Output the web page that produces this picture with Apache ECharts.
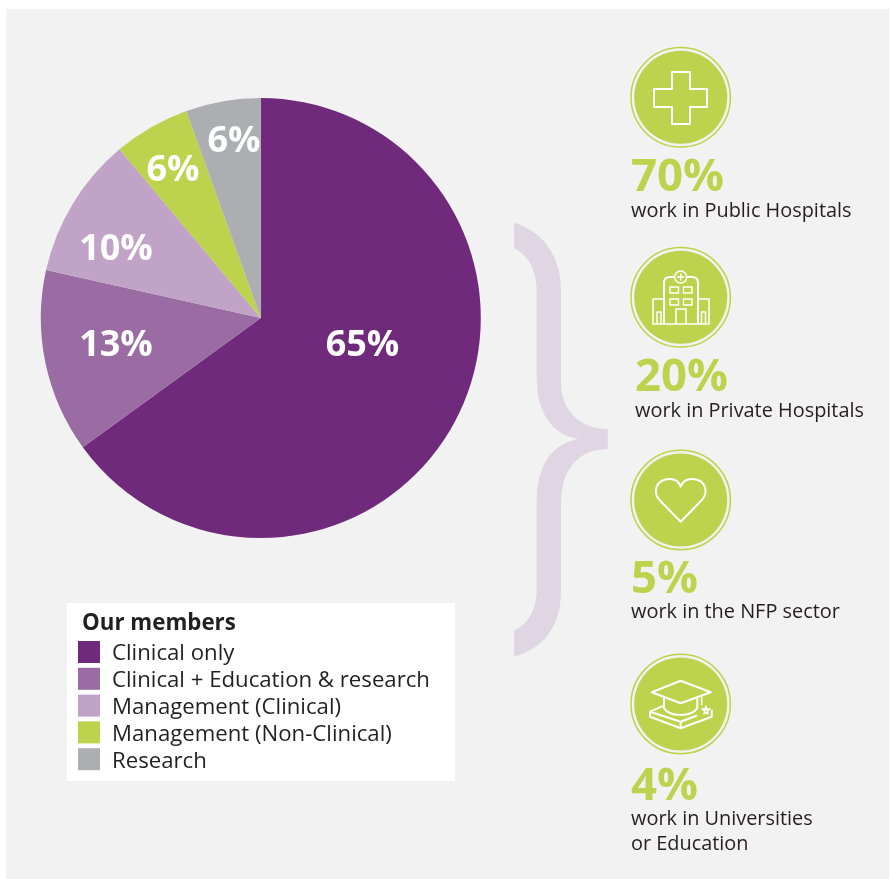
<!DOCTYPE html>
<html><head><meta charset="utf-8">
<style>html,body{margin:0;padding:0;background:#fff}#c{width:890px;height:879px}</style>
<script src="https://cdn.jsdelivr.net/npm/echarts@6/dist/echarts.min.js"></script>
</head><body><div id="c"></div>
<script>
const categories = ['Clinical only','Clinical + Education & research','Management (Clinical)','Management (Non-Clinical)','Research'];
const sliceValues = [65,13.5,10.4,5.6,5.5];
const sliceLabels = ['65%','13%','10%','6%','6%'];
const sliceColors = ['#6f2a7b','#9a6ca3','#c0a3c6','#bdd34d','#acaeb1'];
const labelCentres = [[362.5,346],[116,346],[116,250],[173,171],[234,142]];
const legendTitle = 'Our members';
const sectorPercents = ['70%','20%','5%','4%'];
const sectorTexts = [['work in Public Hospitals'],['work in Private Hospitals'],['work in the NFP sector'],['work in Universities','or Education']];
const sectorX = [631,635,631,631];
const percentY = [178.5,378.5,580.5,787.5];
const textY = [211,411,612,819];
const badgeY = [97.3,297.3,500,704];

const GREEN='#bdd34d', INK='#231f20', FONT='"Open Sans", sans-serif';
const line={fill:null,stroke:'#fff',lineWidth:2,lineJoin:'round'};
const thin={fill:null,stroke:'#fff',lineWidth:1.5,lineJoin:'round'};
let pathCount=0;
const pathEl=(d,style,z)=>{
  const name='svgPath'+(pathCount++);
  echarts.graphic.registerShape(name,echarts.graphic.extendPath(d,{}));
  return {type:name,style,z};
};
const icon=(d,s)=>pathEl(d,s||line,3);
const rect=(x,y,w,h,s)=>({type:'rect',shape:{x,y,width:w,height:h},style:s||thin,z:3});

const icons=[
 [icon('M672 72H690V89H707V107H690V124H672V107H654V89H672Z')],
 [icon('M664 324V283Q664 277 670 277H675M687 277H692Q698 277 698 283V324'),
  icon('M664 299H653V324H709V299H698',thin),
  {type:'circle',shape:{cx:680.7,cy:277,r:6},style:thin,z:3},
  icon('M680.7 273.5V280.5M677.2 277H684.2',thin),
  rect(670,287,8.5,6),rect(683.5,287,8.5,6),rect(670,299,8.5,6),rect(683.5,299,8.5,6),
  icon('M676 324V309H686V324',thin),
  icon('M657 324V312H661V324M701.5 324V312H705.5V324',thin)],
 [icon('M680.7 521.7L660 500.5C652 492 656 479 670 479C675 479 679 482 680.7 486.7C682.4 482 686.4 479 691.7 479C705.4 479 709.4 492 701.4 500.5Z')],
 [icon('M680.7 680.7L651.7 692.3L680.7 703.3L710.7 692.3Z'),
  icon('M664 698.3V708Q668 715 680.7 715Q693 715 697.3 708V698.3'),
  icon('M664 705.7L650 711.7V716.7L680.7 728.3L711.7 716.7V710'),
  icon('M650 711.7L680.7 721.7L697 715.5M680.7 721.7V728.3'),
  icon('M701.7 695V705',thin),
  icon('M702 709H710L704 714L706 706L708 714Z',thin)]
];

const graphic=[
 {type:'rect',shape:{x:6,y:9,width:883,height:870},style:{fill:'#f2f2f2'},z:-5},
 {type:'rect',shape:{x:67,y:603,width:388,height:178},style:{fill:'#fff'},z:-4},
 pathEl('M514 222.7C545 232 561 258 561 290V383C561 410 580 429 607.7 429V449C580 449 561 468 561 503V590C561 625 545 648 514 656.7V630.7C528 624 536.7 610 536.7 590V503C536.7 466 551 444 578.3 439C551 434 536.7 412 536.7 376.7V290C536.7 270 528 255 514 248.3Z',{fill:'#dfd5e3'},-4),
 {type:'text',style:{text:legendTitle,x:82,y:624,font:'bold 22.3px '+FONT,fill:INK,verticalAlign:'middle'},z:5}
];
badgeY.forEach((cy,i)=>{
 graphic.push({type:'circle',shape:{cx:680.7,cy,r:49.7},style:{fill:null,stroke:GREEN,lineWidth:1.5},z:1});
 graphic.push({type:'circle',shape:{cx:680.7,cy,r:46.5},style:{fill:GREEN},z:1});
 icons[i].forEach(e=>graphic.push(e));
 graphic.push({type:'text',style:{text:sectorPercents[i],x:sectorX[i],y:percentY[i],font:'bold 45.5px '+FONT,fill:GREEN,verticalAlign:'middle'},z:5});
 sectorTexts[i].forEach((t,k)=>graphic.push({type:'text',style:{text:t,x:sectorX[i],y:textY[i]+k*25.5,font:'19.9px '+FONT,fill:INK,verticalAlign:'middle'},z:5}));
});

const chart=echarts.init(document.getElementById('c'),null,{renderer:'canvas'});
chart.setOption({
 animation:false,
 backgroundColor:'#fff',
 graphic,
 legend:{orient:'vertical',left:78,top:639,itemWidth:22,itemHeight:22,itemGap:0.8,
  icon:'rect',selectedMode:false,data:categories,formatter:'{t|{name}}',
  textStyle:{rich:{t:{fontFamily:'Open Sans',fontSize:22.2,lineHeight:22,color:INK,padding:[4,0,0,7]}}},padding:0},
 series:[{type:'pie',center:[260.8,318],radius:[0,220],startAngle:90,clockwise:true,
  avoidLabelOverlap:false,
  data:categories.map((name,i)=>({name,value:sliceValues[i],itemStyle:{color:sliceColors[i]}})),
  label:{show:true,position:'inside',formatter:p=>sliceLabels[p.dataIndex],
   fontFamily:'Open Sans',fontWeight:'bold',fontSize:36,color:'#fff'},
  labelLine:{show:false},
  labelLayout:p=>({x:labelCentres[p.dataIndex][0],y:labelCentres[p.dataIndex][1],align:'center',verticalAlign:'middle'}),
  emphasis:{disabled:true}
 }]
});
</script></body></html>
